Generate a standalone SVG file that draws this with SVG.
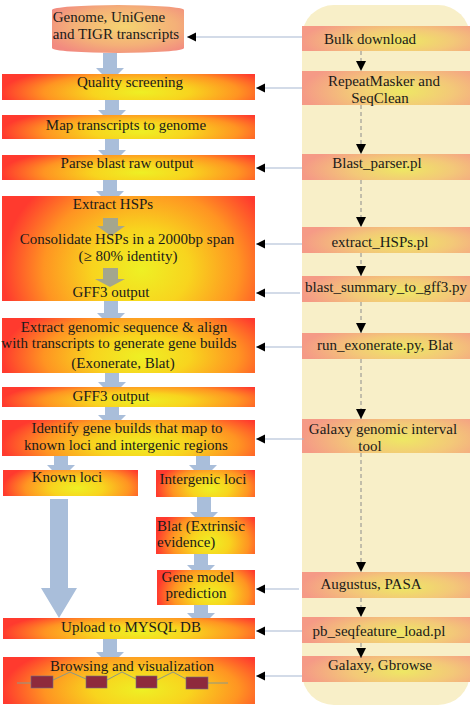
<svg xmlns="http://www.w3.org/2000/svg" width="472" height="706" viewBox="0 0 472 706">
<defs>
<radialGradient id="gL" cx="0.55" cy="0.7" r="0.55" gradientTransform="translate(0.55,0.7) scale(1,2) translate(-0.55,-0.7)">
<stop offset="0" stop-color="#EEF024"/>
<stop offset="0.35" stop-color="#F8D41E"/>
<stop offset="0.7" stop-color="#FF9422"/>
<stop offset="1" stop-color="#FF3A2E"/>
</radialGradient>
<radialGradient id="gR" cx="0.6" cy="0.6" r="0.6" gradientTransform="translate(0.6,0.6) scale(1,1.6) translate(-0.6,-0.6)">
<stop offset="0" stop-color="#EEE864"/>
<stop offset="0.5" stop-color="#F3C878"/>
<stop offset="1" stop-color="#F59A86"/>
</radialGradient>
<radialGradient id="gC" cx="0.55" cy="0.45" r="0.65">
<stop offset="0" stop-color="#F5D470"/>
<stop offset="0.6" stop-color="#F4B078"/>
<stop offset="1" stop-color="#F28A80"/>
</radialGradient>
<marker id="ah" viewBox="0 0 10 10" refX="10" refY="5" markerWidth="9" markerHeight="11" markerUnits="userSpaceOnUse" orient="auto">
<path d="M0,0 L10,5 L0,10 z" fill="#000"/>
</marker>
<marker id="av" viewBox="0 0 10 10" refX="10" refY="5" markerWidth="10" markerHeight="12" markerUnits="userSpaceOnUse" orient="auto">
<path d="M0,0 L10,5 L0,10 z" fill="#000"/>
</marker>
</defs>
<style>
.lb{fill:url(#gL)}
.rb{fill:url(#gR)}
.t{font-family:"Liberation Serif","Times New Roman",serif;font-size:15px;fill:#1a1a1a;text-anchor:middle}
.ts{text-anchor:start}
.ba{fill:#A9BEDA}
.ga{fill:#A4A68E}
.hc{stroke:#A8B8D2;stroke-width:1.2;fill:none;marker-end:url(#ah)}
.vc{stroke:#8C8C8C;stroke-width:1;stroke-dasharray:4,3;fill:none;marker-end:url(#av)}
.ex{fill:#8E2A3C;stroke:#6E6E8A;stroke-width:0.6}
.in{stroke:#8A9A8A;stroke-width:1;fill:none}
</style>

<rect id="panel" x="302" y="5" width="168" height="700" rx="32" fill="#F8EFC8"/>

<g id="blockarrows">
<polygon class="ba" points="103,53 117,53 117,68 124,68 110,82 96,68 103,68"/>
<polygon class="ba" points="105,100 119,100 119,110 126,110 112,124 98,110 105,110"/>
<polygon class="ba" points="105,139 119,139 119,150 126,150 112,164 98,150 105,150"/>
<polygon class="ba" points="103,180 117,180 117,191 124,191 110,205 96,191 103,191"/>
<polygon class="ba" points="104,301 118,301 118,313 125,313 111,327 97,313 104,313"/>
<polygon class="ba" points="105,373 119,373 119,382 126,382 112,396 98,382 105,382"/>
<polygon class="ba" points="105,407 119,407 119,415 126,415 112,429 98,415 105,415"/>
<polygon class="ba" points="54,456 68,456 68,465 75,465 61,479 47,465 54,465"/>
<polygon class="ba" points="196,456 210,456 210,465 217,465 203,479 189,465 196,465"/>
<polygon class="ba" points="50,499 68,499 68,588 77,588 59,618 41,588 50,588"/>
<polygon class="ba" points="197,497 211,497 211,512 218,512 204,526 190,512 197,512"/>
<polygon class="ba" points="194,554 208,554 208,565 215,565 201,579 187,565 194,565"/>
<polygon class="ba" points="194,605 208,605 208,613 215,613 201,627 187,613 194,613"/>
<polygon class="ba" points="103,639 117,639 117,652 124,652 110,666 96,652 103,652"/>
</g>

<g id="n-genome">
<path d="M52,10 A66,5 0 0 1 184,10 V48 A66,5 0 0 1 52,48 Z" fill="url(#gC)"/>
<text class="t" x="109" y="22">Genome, UniGene</text>
<text class="t" x="116" y="39">and TIGR transcripts</text>
</g>
<g id="n-quality">
<rect class="lb" x="2" y="74" width="253" height="26"/>
<text class="t" x="130" y="87">Quality screening</text>
</g>
<g id="n-map">
<rect class="lb" x="2" y="115" width="253" height="24"/>
<text class="t" x="126" y="130">Map transcripts to genome</text>
</g>
<g id="n-parse">
<rect class="lb" x="2" y="155" width="253" height="25"/>
<text class="t" x="127" y="168">Parse blast raw output</text>
</g>
<g id="n-hsps">
<rect class="lb" x="2" y="196" width="253" height="105"/>
<polygon class="ga" points="103,218 118,218 118,226 125,226 111,236 97,226 103,226"/>
<polygon class="ga" points="103,268 118,268 118,279 125,279 110,287 95,279 103,279"/>
<text class="t" x="113" y="209">Extract HSPs</text>
<text class="t" x="127" y="244">Consolidate HSPs in a 2000bp span</text>
<text class="t" x="128" y="261">(≥ 80% identity)</text>
<text class="t" x="111" y="297">GFF3 output</text>
</g>
<g id="n-extract">
<rect class="lb" x="2" y="318" width="253" height="55"/>
<text class="t" x="124" y="332">Extract genomic sequence &amp; align</text>
<text class="t" x="119" y="348">with transcripts to generate gene builds</text>
<text class="t" x="123" y="368">(Exonerate, Blat)</text>
</g>
<g id="n-gff3b">
<rect class="lb" x="2" y="387" width="253" height="20"/>
<text class="t" x="111" y="401">GFF3 output</text>
</g>
<g id="n-identify">
<rect class="lb" x="2" y="420" width="253" height="36"/>
<text class="t" x="127" y="433">Identify gene builds that map to</text>
<text class="t" x="126" y="450">known loci and intergenic regions</text>
</g>
<g id="n-known">
<rect class="lb" x="3" y="470" width="135" height="26"/>
<text class="t" x="67" y="482">Known loci</text>
</g>
<g id="n-intergenic">
<rect class="lb" x="156" y="470" width="99" height="27"/>
<text class="t" x="203" y="484">Intergenic loci</text>
</g>
<g id="n-blat">
<rect class="lb" x="156" y="517" width="99" height="37"/>
<text class="t ts" x="157" y="531">Blat (Extrinsic</text>
<text class="t ts" x="157" y="547">evidence)</text>
</g>
<g id="n-genemodel">
<rect class="lb" x="157" y="570" width="98" height="35"/>
<text class="t" x="198" y="582">Gene model</text>
<text class="t" x="196" y="598">prediction</text>
</g>
<g id="n-upload">
<rect class="lb" x="3" y="618" width="252" height="21"/>
<text class="t" x="131" y="632">Upload to MYSQL DB</text>
</g>
<g id="n-browse">
<rect class="lb" x="3" y="657" width="252" height="47"/>
<text class="t" x="132" y="671">Browsing and visualization</text>
<polyline class="in" points="17,683 31,683"/>
<polyline class="in" points="53,680 70,672 86,679"/>
<polyline class="in" points="107,680 122,672 136,679"/>
<polyline class="in" points="157,680 173,672 186,679"/>
<polyline class="in" points="208,683 228,683"/>
<rect class="ex" x="31" y="676" width="22" height="12"/>
<rect class="ex" x="86" y="676" width="21" height="12"/>
<rect class="ex" x="136" y="676" width="21" height="12"/>
<rect class="ex" x="186" y="677" width="22" height="12"/>
</g>

<g id="n-bulk"><rect class="rb" x="302" y="26" width="168" height="25"/><text class="t" x="370" y="44">Bulk download</text></g>
<g id="n-repeat"><rect class="rb" x="302" y="71" width="168" height="34"/><text class="t" x="384" y="86">RepeatMasker and</text><text class="t" x="380" y="103">SeqClean</text></g>
<g id="n-blastparser"><rect class="rb" x="302" y="154" width="168" height="26"/><text class="t" x="377" y="168">Blast_parser.pl</text></g>
<g id="n-extracthsps"><rect class="rb" x="302" y="227" width="168" height="26"/><text class="t" x="380" y="247">extract_HSPs.pl</text></g>
<g id="n-summary"><rect class="rb" x="302" y="276" width="168" height="26"/><text class="t" x="386" y="292">blast_summary_to_gff3.py</text></g>
<g id="n-exonerate"><rect class="rb" x="302" y="333" width="168" height="26"/><text class="t" x="385" y="350">run_exonerate.py, Blat</text></g>
<g id="n-galaxyint"><rect class="rb" x="302" y="419" width="168" height="34"/><text class="t" x="383" y="434">Galaxy genomic interval</text><text class="t" x="370" y="451">tool</text></g>
<g id="n-augustus"><rect class="rb" x="302" y="572" width="168" height="26"/><text class="t" x="371" y="589">Augustus, PASA</text></g>
<g id="n-pbseq"><rect class="rb" x="302" y="617" width="168" height="26"/><text class="t" x="379" y="636">pb_seqfeature_load.pl</text></g>
<g id="n-gbrowse"><rect class="rb" x="302" y="656" width="168" height="26"/><text class="t" x="380" y="670">Galaxy, Gbrowse</text></g>

<g id="connectors">
<line class="hc" x1="302" y1="37" x2="187" y2="37"/>
<line class="hc" x1="302" y1="88" x2="256" y2="88"/>
<line class="hc" x1="302" y1="168" x2="256" y2="168"/>
<line class="hc" x1="302" y1="244" x2="256" y2="244"/>
<line class="hc" x1="300" y1="293" x2="256" y2="293"/>
<line class="hc" x1="302" y1="347" x2="256" y2="347"/>
<line class="hc" x1="304" y1="439" x2="256" y2="439"/>
<line class="hc" x1="299" y1="589" x2="256" y2="589"/>
<line class="hc" x1="302" y1="631" x2="256" y2="631"/>
<line class="hc" x1="302" y1="676" x2="256" y2="676"/>
<line class="vc" x1="361" y1="51" x2="361" y2="71"/>
<line class="vc" x1="361" y1="105" x2="361" y2="154"/>
<line class="vc" x1="361" y1="180" x2="361" y2="227"/>
<line class="vc" x1="361" y1="253" x2="361" y2="276"/>
<line class="vc" x1="361" y1="302" x2="361" y2="333"/>
<line class="vc" x1="361" y1="359" x2="361" y2="419"/>
<line class="vc" x1="361" y1="453" x2="361" y2="572"/>
<line class="vc" x1="361" y1="598" x2="361" y2="617"/>
<line class="vc" x1="361" y1="643" x2="361" y2="658"/>
</g>
</svg>
